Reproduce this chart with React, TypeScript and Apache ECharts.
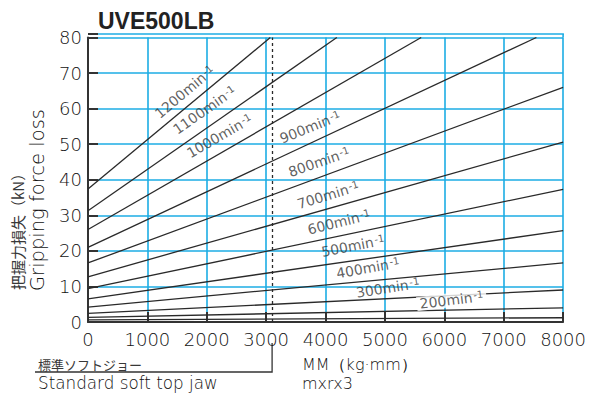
import React, { useEffect, useRef } from 'react';
import * as echarts from 'echarts';

// ---- data ----
const speeds = [1200, 1100, 1000, 900, 800, 700, 600, 500, 400, 300, 200, 100];
const startForce = [37.4, 31.3, 26.0, 21.0, 16.6, 12.7, 9.4, 6.5, 4.2, 2.4, 1.3, 0.6];
const endMM = [3070, 4190, 5610, 7550, 8000, 8000, 8000, 8000, 8000, 8000, 8000, 8000];
const endForce = [80, 80, 80, 80, 66.0, 50.6, 37.3, 25.7, 16.6, 9.0, 4.0, 1.2];
const labelledSpeeds = [1200, 1100, 1000, 900, 800, 700, 600, 500, 400, 300, 200];
const labelMM = [1627, 1962, 2214, 3740, 3891, 4042, 4226, 4461, 4713, 5048, 6122];
const labelForce = [64.7, 59.6, 52.3, 54.8, 45.0, 35.7, 28.1, 21.4, 15.2, 9.6, 6.2];
const xTickLabels = ['0', '1000', '2000', '3000', '4000', '5000', '6000', '7000', '8000'];
const yTickLabels = ['0', '10', '20', '30', '40', '50', '60', '70', '80'];
const jawMM = 3100;

// ---- styles ----
const labelAngles = [40, 35, 30, 22, 19, 17, 14, 11, 10, 9, 7];
const GRID = '#1CADE4';
const INK = '#2a2a2a';
const TXT = '#383838';
const THIN = '#111';
const FONT = 'DejaVu Sans';

export default function App() {
  const ref = useRef<HTMLDivElement>(null);
  useEffect(() => {
    if (!ref.current) return;
    const chart = echarts.init(ref.current, undefined, { renderer: 'svg' });
    const lineSeries = speeds.map((s, i) => ({
      type: 'line',
      name: s + 'min-1',
      data: [[0, startForce[i]], [endMM[i], endForce[i]]],
      symbol: 'none',
      lineStyle: { color: INK, width: 1.3 },
      silent: true,
      z: 3,
      ...(i === 0
        ? {
            markLine: {
              silent: true,
              symbol: ['none', 'none'],
              label: { show: false },
              lineStyle: { color: INK, width: 1.3, type: [3, 3] },
              data: [{ xAxis: jawMM }],
            },
          }
        : {}),
    }));
    const labelSeries = {
      type: 'scatter',
      symbolSize: 0.1,
      itemStyle: { color: 'transparent' },
      silent: true,
      z: 5,
      data: labelledSpeeds.map((s, i) => ({
        value: [labelMM[i], labelForce[i]],
        label: {
          show: true,
          position: 'inside',
          rotate: labelAngles[i],
          formatter: `{a|${s}min}{b|-1}`,
          ...(i === labelledSpeeds.length - 1 ? { backgroundColor: '#fff', padding: [0, 3] } : {}),
          rich: {
            a: { fontFamily: FONT, fontSize: 14, color: TXT },
            b: { fontFamily: FONT, fontSize: 10, color: TXT, verticalAlign: 'top', padding: [0, 0, 0, 1] },
          },
        },
      })),
    };
    chart.setOption({
      animation: false,
      title: {
        text: 'UVE500LB',
        left: 93,
        top: 4,
        textStyle: { fontFamily: 'Liberation Sans', fontWeight: 'bold', fontSize: 23, color: '#222' },
      },
      grid: { left: 88, right: 24, top: 37.5, bottom: 75 },
      xAxis: {
        type: 'value',
        min: 0,
        max: 8000,
        interval: 1000,
        axisLine: { show: true, lineStyle: { color: '#333', width: 2 } },
        axisTick: { show: true, inside: true, length: 10, lineStyle: { color: '#333', width: 2 } },
        axisLabel: {
          margin: 8,
          fontFamily: FONT,
          fontSize: 18,
          fontWeight: 200,
          color: THIN,
          formatter: (v: number) => xTickLabels[Math.round(v / 1000)] ?? '',
        },
        splitLine: { show: true, lineStyle: { color: GRID, width: 1.6 } },
      },
      yAxis: {
        type: 'value',
        min: 0,
        max: 80,
        interval: 10,
        axisLine: { show: true, lineStyle: { color: '#333', width: 2 } },
        axisTick: { show: true, inside: true, length: 10, lineStyle: { color: '#333', width: 2 } },
        axisLabel: {
          margin: 6,
          fontFamily: FONT,
          fontSize: 18,
          fontWeight: 200,
          color: THIN,
          formatter: (v: number) => yTickLabels[Math.round(v / 10)] ?? '',
        },
        splitLine: { show: true, lineStyle: { color: GRID, width: 1.6 } },
      },
      series: [...lineSeries, labelSeries],
    });

    const p = chart.convertToPixel({ xAxisIndex: 0, yAxisIndex: 0 }, [jawMM, 0]) as number[];
    const tl = chart.convertToPixel({ xAxisIndex: 0, yAxisIndex: 0 }, [0, 80]) as number[];
    const tr = chart.convertToPixel({ xAxisIndex: 0, yAxisIndex: 0 }, [8000, 80]) as number[];
    chart.setOption({
      graphic: [
        { type: 'line', shape: { x1: tl[0], y1: tl[1] - 3.5, x2: tr[0] + 0.8, y2: tr[1] - 3.5 }, style: { stroke: GRID, lineWidth: 1.6 } },
        { type: 'line', shape: { x1: tl[0], y1: tl[1] - 3.5, x2: tl[0] + 10, y2: tl[1] - 3.5 }, style: { stroke: '#333', lineWidth: 2 } },
        { type: 'line', shape: { x1: tr[0], y1: tr[1] - 3.5, x2: tr[0], y2: tr[1] }, style: { stroke: GRID, lineWidth: 1.6 } },
        {
          type: 'polyline',
          shape: { points: [[p[0], p[1] + 21], [p[0], p[1] + 50], [35, p[1] + 50]] },
          style: { stroke: '#333', lineWidth: 1.3, fill: 'none' },
        },
        {
          type: 'text', x: 38, y: 364,
          style: { text: '標準ソフトジョー', fontFamily: 'Noto Sans CJK JP', fontSize: 13, fill: TXT, textAlign: 'left', textVerticalAlign: 'middle' },
        },
        {
          type: 'text', x: 38, y: 383,
          style: { text: 'Standard soft top jaw', fontFamily: FONT, fontSize: 16.8, fontWeight: 200, fill: THIN, textAlign: 'left', textVerticalAlign: 'middle' },
        },
        {
          type: 'text', x: 302, y: 364,
          style: { text: 'MM（kg·mm）', fontFamily: FONT, fontSize: 16, fontWeight: 200, fill: THIN, textAlign: 'left', textVerticalAlign: 'middle' },
        },
        {
          type: 'text', x: 302, y: 383,
          style: { text: 'mxrx3', fontFamily: FONT, fontSize: 16, fontWeight: 200, fill: THIN, textAlign: 'left', textVerticalAlign: 'middle' },
        },
        {
          type: 'text', x: 17, y: 290, rotation: Math.PI / 2,
          style: { text: '把握力損失（kN）', fontFamily: 'Noto Sans CJK JP', fontSize: 15, fill: TXT, textAlign: 'left', textVerticalAlign: 'middle' },
        },
        {
          type: 'text', x: 37, y: 291, rotation: Math.PI / 2,
          style: { text: 'Gripping force loss', fontFamily: FONT, fontSize: 19.5, fontWeight: 200, fill: THIN, textAlign: 'left', textVerticalAlign: 'middle' },
        },
      ],
    });
    return () => chart.dispose();
  }, []);
  return <div ref={ref} style={{ position: 'absolute', left: 0, top: 0, width: 589, height: 397 }} />;
}
